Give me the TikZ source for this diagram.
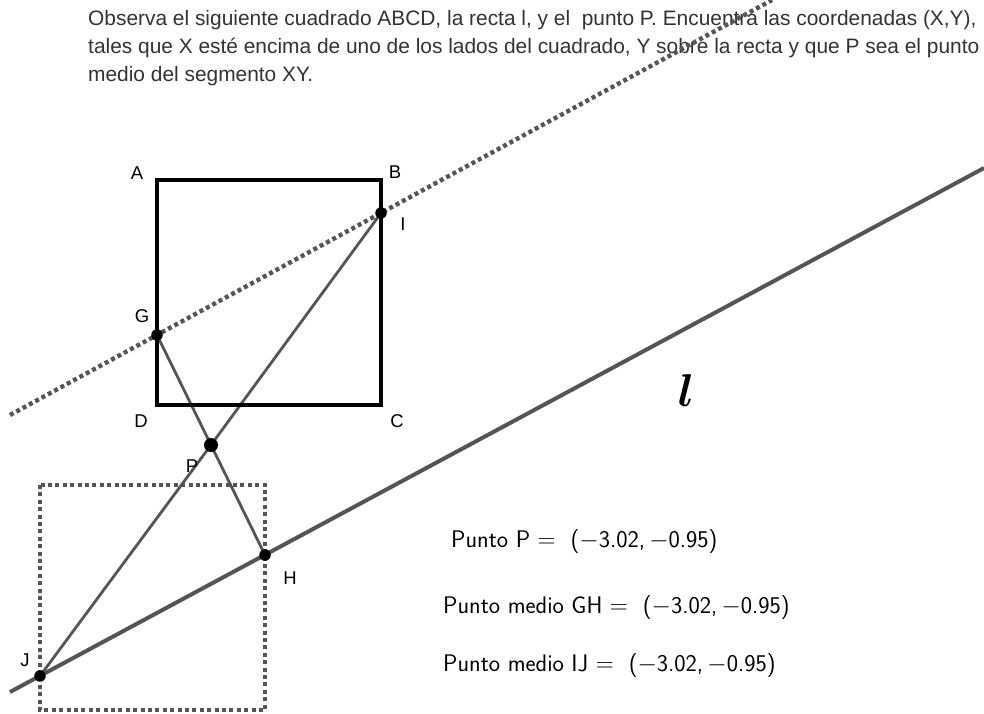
\documentclass[tikz,border=0pt]{standalone}
\usepackage{amsmath,amssymb}
\usepackage{fontspec}
\setmainfont{Liberation Sans}
\setsansfont{Latin Modern Sans}
\usepackage{xcolor}
\usetikzlibrary{positioning,calc}
\definecolor{ink}{HTML}{333333}
\definecolor{segray}{HTML}{555555}
\tikzset{
    every picture/.style={line join=miter},
    side/.style={draw=black,line width=4pt},
    seg/.style={draw=segray,line width=2.8pt},
    recta/.style={draw=segray,line width=4pt},
    dotline/.style={draw=segray,line width=4.4pt,dash pattern=on 4pt off 3.2pt},
    dotbox/.style={draw=segray,line width=3.8pt,dash pattern=on 4pt off 3.4pt},
    pt/.style={circle,fill=black,inner sep=0pt,minimum size=11.5pt},
    ptbig/.style={circle,fill=black,inner sep=0pt,minimum size=14pt},
    ptlabel/.style={font=\fontsize{18.5}{20}\selectfont,text=black,inner sep=0pt},
    prompt/.style={font=\fontsize{20.9}{24}\selectfont,text=ink,anchor=west,inner sep=0pt},
    readout/.style={font=\sffamily\fontsize{24}{28}\selectfont,text=black,anchor=west,inner sep=0pt}
}
\begin{document}
\begin{tikzpicture}[x=1pt,y=-1pt]
  \useasboundingbox (0,0) rectangle (984,713);
  % enunciado
  \node[prompt] (t1) at (88,20) {Observa el siguiente cuadrado ABCD, la recta l, y el \ punto P. Encuentra las coordenadas (X,Y),};
  \node[prompt] (t2) at (88,48) {tales que X esté encima de uno de los lados del cuadrado, Y sobre la recta y que P sea el punto};
  \node[prompt] (t3) at (88,76) {medio del segmento XY.};
  % puntos
  \coordinate (A) at (157,180);
  \coordinate (B) at (381,180);
  \coordinate (C) at (381,405);
  \coordinate (D) at (157,405);
  \coordinate (G) at (157,335);
  \coordinate (I) at (381,213);
  \coordinate (H) at (265,555);
  \coordinate (J) at (40,676);
  \coordinate (P) at (211,445);
  \coordinate (s1) at (10,415);
  \coordinate (s2) at (772,0);
  \coordinate (l1) at (10,692);
  \coordinate (l2) at (984,168);
  % cuadrado reflejado
  \draw[dotbox] (40,485) rectangle (265,710);
  % recta l
  \draw[recta] (l1) -- (l2);
  % segmentos
  \draw[seg] (G) -- (P) -- (H);
  \draw[seg] (I) -- (P) -- (J);
  % cuadrado ABCD
  \draw[side] (A) -- (B) -- (C) -- (D) -- cycle;
  % recta reflejada
  \draw[dotline] (s1) -- (s2);
  \foreach \p in {G,I,H,J}{\node[pt] at (\p){};}
  \node[ptbig] at (P){};
  % etiquetas
  \node[ptlabel] at (137,173) {A};
  \node[ptlabel] at (395,172) {B};
  \node[ptlabel] at (403,224) {I};
  \node[ptlabel] at (142,316) {G};
  \node[ptlabel] at (141,421) {D};
  \node[ptlabel] at (397,421) {C};
  \node[ptlabel] at (192,466) {P};
  \node[ptlabel] at (290,578) {H};
  \node[ptlabel] at (25,660) {J};
  \node[font=\fontsize{24.88}{26}\selectfont,scale=1.85,inner sep=0pt] (lname) at (686,391) {$\boldsymbol{l}$};
  % lecturas
  \node[readout] (r1) at (451,541) {Punto P $=$ \ ($-$3.02,$\,-$0.95)};
  \node[readout] (r2) at (443,607) {Punto medio GH $=$ \ ($-$3.02,$\,-$0.95)};
  \node[readout] (r3) at (443,665) {Punto medio IJ $=$ \ ($-$3.02,$\,-$0.95)};
\end{tikzpicture}
\end{document}
